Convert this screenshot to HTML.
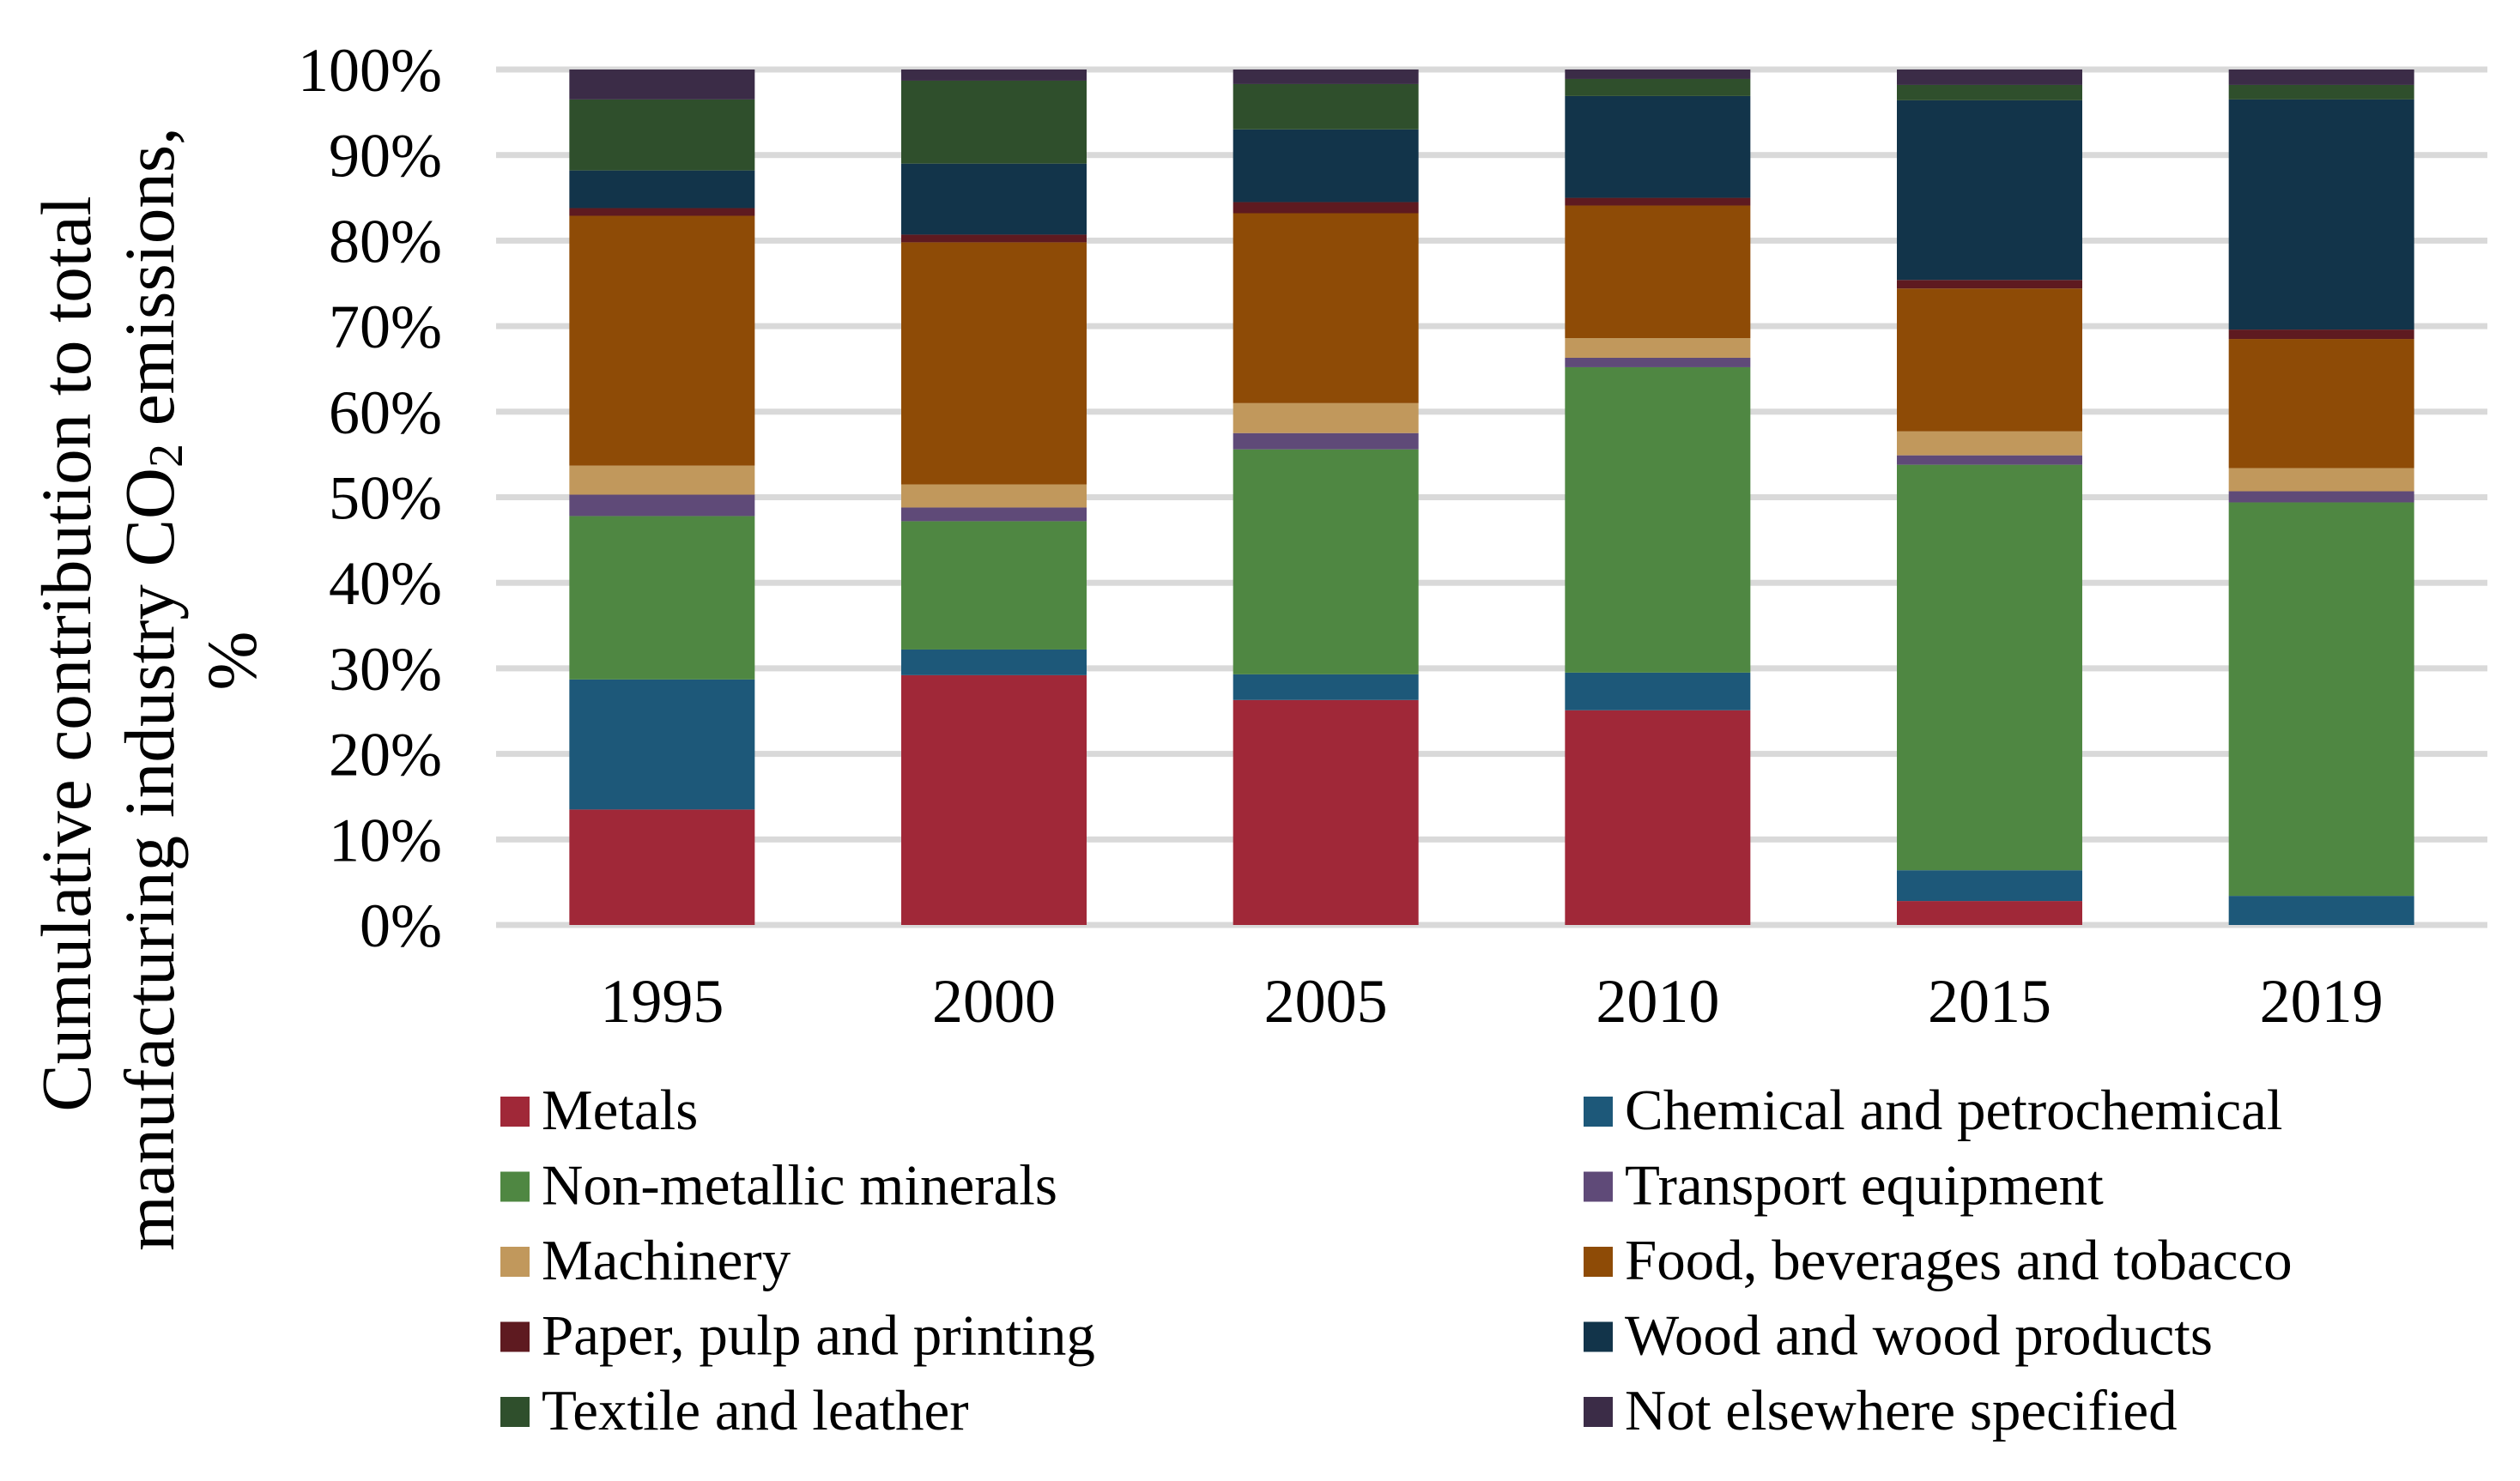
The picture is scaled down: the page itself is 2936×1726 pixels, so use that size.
<!DOCTYPE html>
<html><head><meta charset="utf-8"><style>
html,body{margin:0;padding:0;background:#fff;}
svg{display:block;font-family:"Liberation Serif",serif;}
</style></head><body>
<svg id="chart" width="2936" height="1726" viewBox="0 0 2936 1726" xmlns="http://www.w3.org/2000/svg">
<g id="grid"></g>
<g id="yticks"></g>
<g id="bars"></g>
<g id="xticks"></g>
<g font-size="83" text-anchor="middle">
<text transform="translate(105,762) rotate(-90)">Cumulative contribution to total</text>
<text transform="translate(202,803) rotate(-90)">manufacturing industry CO<tspan font-size="56" dy="10">2</tspan><tspan dy="-10"> emissions,</tspan></text>
<text transform="translate(298,770) rotate(-90)">%</text>
</g>
<g id="legend"></g>
</svg>
<script>
const categories = ["1995","2000","2005","2010","2015","2019"];
const seriesNames = ["Metals","Chemical and petrochemical","Non-metallic minerals","Transport equipment","Machinery","Food, beverages and tobacco","Paper, pulp and printing","Wood and wood products","Textile and leather","Not elsewhere specified"];
const seriesColors = ["#A02838","#1D5879","#4F8742","#5F4A78","#C1985C","#8E4B06","#5E1A20","#12344A","#2F4F2C","#3B2C47"];
// shares in % per year
const metals    = [13.5, 29.2, 26.3, 25.1, 2.8, 0.0];
const chemical  = [15.2, 3.0, 3.0, 4.4, 3.6, 3.4];
const nonmetal  = [19.1, 15.0, 26.3, 35.7, 47.4, 46.0];
const transport = [2.5, 1.6, 1.9, 1.1, 1.1, 1.3];
const machinery = [3.4, 2.7, 3.5, 2.3, 2.8, 2.7];
const food      = [29.2, 28.3, 22.2, 15.5, 16.7, 15.1];
const paper     = [0.9, 0.9, 1.3, 0.9, 1.0, 1.1];
const wood      = [4.4, 8.3, 8.5, 11.9, 21.0, 26.9];
const textile   = [8.3, 9.7, 5.3, 2.0, 1.8, 1.7];
const nes       = [3.5, 1.3, 1.7, 1.1, 1.8, 1.8];
const yTicks = [0,10,20,30,40,50,60,70,80,90,100];
const yTickLabels = ["0%","10%","20%","30%","40%","50%","60%","70%","80%","90%","100%"];

const series = [metals,chemical,nonmetal,transport,machinery,food,paper,wood,textile,nes];
const NS="http://www.w3.org/2000/svg";
const X0=578, X1=2898, Y0=1078, Y100=81;
const band=(X1-X0)/categories.length, barW=216;
function yScale(v){return Y0-(v/100)*(Y0-Y100);}
function xCenter(i){return X0+band*(i+0.5);}
function mk(tag,attrs,parent){const e=document.createElementNS(NS,tag);for(const k in attrs)e.setAttribute(k,attrs[k]);parent.appendChild(e);return e;}

const grid=document.getElementById('grid'), yt=document.getElementById('yticks');
yTicks.forEach((t,i)=>{
  const l=mk('rect',{x:X0,y:yScale(t)-3.5,width:X1-X0,height:7,fill:'#D9D9D9'},grid);
  
  
  const tx=mk('text',{x:515,y:yScale(t)+25,'font-size':72,'text-anchor':'end',fill:'#000'},yt);
  tx.textContent=yTickLabels[i];
  
  
});
const bars=document.getElementById('bars'), xt=document.getElementById('xticks');
categories.forEach((c,i)=>{
  let cum=0;
  series.forEach((s,j)=>{
    const v=s[i]; const yTop=yScale(cum+v), yBot=yScale(cum); cum+=v;
    if(v<=0) return;
    const r=mk('rect',{x:xCenter(i)-barW/2,y:yTop,width:barW,height:yBot-yTop,fill:seriesColors[j]},bars);
    
    
  });
  const tx=mk('text',{x:xCenter(i),y:1191,'font-size':72,'text-anchor':'middle',fill:'#000'},xt);
  tx.textContent=c;
  
  
});
const lg=document.getElementById('legend');
seriesNames.forEach((n,j)=>{
  const col=j%2, row=Math.floor(j/2);
  const sx=col?1845:583, ty=1316+row*87.5;
  const g=mk('g',{},lg);
  
  
  const sw=mk('rect',{x:sx,y:ty-38,width:34,height:35,fill:seriesColors[j]},g);
  
  
  const t=mk('text',{x:sx+48,y:ty,'font-size':67,fill:'#000'},g);
  t.textContent=n;
  
  
});
</script>
</body></html>
